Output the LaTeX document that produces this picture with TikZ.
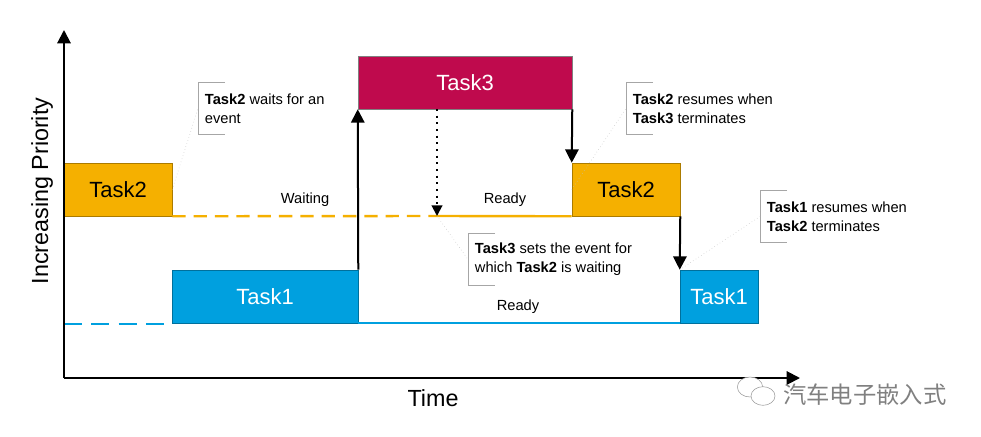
\documentclass[tikz,border=0pt]{standalone}
\usepackage{fontspec}
\setmainfont{Liberation Sans}
\newfontfamily\cjkfont{Noto Sans CJK SC}
\usetikzlibrary{arrows.meta}

\definecolor{tkorange}{HTML}{F5B000}
\definecolor{tkred}{HTML}{BF0A4D}
\definecolor{tkblue}{HTML}{00A0DF}

\tikzset{
	task/.style={draw, minimum height=39.75pt, inner sep=0pt, font=\fontsize{16.5}{18}\selectfont},
	flow/.style={-{Triangle[length=10pt,width=10pt]}, line width=1.5pt},
	note/.style={anchor=west, align=left, minimum height=38.25pt, inner xsep=5pt, font=\fontsize{11}{14.5}\selectfont},
	bracket/.style={draw=gray!70, line width=0.6pt},
	leader/.style={draw=gray!50, dotted, line width=0.4pt},
	lbl/.style={font=\fontsize{11}{13}\selectfont}
}

\begin{document}
\begin{tikzpicture}[x=0.75pt,y=-0.75pt]
		\useasboundingbox (0,0) rectangle (981,436);
		
		\node[task, fill=tkorange, draw=tkorange!70!black, minimum width=81pt] (t2a) at (118,189.5) {Task2};
		\node[task, fill=tkblue, draw=tkblue!70!black, text=white, minimum width=139.5pt] (t1a) at (265,296.5) {Task1};
		\node[task, fill=tkred, draw=gray, text=white, minimum width=160.5pt] (t3) at (465,82.5) {Task3};
		\node[task, fill=tkorange, draw=tkorange!70!black, minimum width=81pt] (t2b) at (626,189.5) {Task2};
		\node[task, fill=tkblue, draw=tkblue!70!black, text=white, minimum width=58.5pt] (t1b) at (719,296.5) {Task1};
		
		\coordinate (evt) at (437,216);
		\coordinate (set) at (437,109);
		\coordinate (bl0) at (64,324);
		\coordinate (bl1) at (165,324);
		\draw[tkorange, line width=1.8pt, dash pattern=on 10pt off 6pt] (t2a.south east) -- (evt);
		\draw[tkorange, line width=1.8pt] (evt) -- (t2b.south west);
		\draw[tkblue, line width=1.5pt] (t1a.south east) -- (t1b.south west);
		\draw[tkblue, line width=1.8pt, dash pattern=on 13.5pt off 7pt] (bl0) -- (bl1);
		
		\coordinate (o) at (64,378);
		\coordinate (ytop) at (64,30);
		\coordinate (xend) at (800,378);
		\draw[flow] (o) -- (ytop);
		\draw[flow] (o) -- (xend);
		\node[font=\fontsize{17.5}{20}\selectfont, rotate=90] (prio) at (42,191) {Increasing Priority};
		\node[font=\fontsize{17.5}{20}\selectfont] (time) at (433,398) {Time};
		
		\draw[flow] (t1a.north east) -- (t3.south west);
		\draw[flow] (t3.south east) -- (t2b.north west);
		\draw[flow] (t2b.south east) -- (t1b.north west);
		\draw[flow, -{Triangle[length=8pt,width=8pt]}, dash pattern=on 1.5pt off 3.5pt] (set) -- (evt);
		
		\node[lbl] (wait) at (305,200) {Waiting};
		\node[lbl] (rdy1) at (505,200) {Ready};
		\node[lbl] (rdy2) at (518,307) {Ready};
		
		\node[note] (n1) at (198,108.5) {\textbf{Task2} waits for an\\event};
		\node[note] (n2) at (626,108.5) {\textbf{Task2} resumes when\\\textbf{Task3} terminates};
		\node[note] (n3) at (468,259.5) {\textbf{Task3} sets the event for\\which \textbf{Task2} is waiting};
		\node[note] (n4) at (760,216.5) {\textbf{Task1} resumes when\\\textbf{Task2} terminates};
		\draw[bracket] ([xshift=20.25pt]n1.north west) -- (n1.north west) -- (n1.south west) -- ++(27,0);
		\draw[bracket] ([xshift=20.25pt]n2.north west) -- (n2.north west) -- (n2.south west) -- ++(27,0);
		\draw[bracket] ([xshift=20.25pt]n3.north west) -- (n3.north west) -- (n3.south west) -- ++(27,0);
		\draw[bracket] ([xshift=20.25pt]n4.north west) -- (n4.north west) -- (n4.south west) -- ++(27,0);
		\draw[leader] (t2a.east) -- (n1.west);
		\draw[leader] (t2b.west) -- (n2.west);
		\draw[leader] (evt) -- (n3.west);
		\draw[leader] (t1b.north west) -- (n4.west);
		
		\draw[black!40, fill=white] (750,387) ellipse [x radius=9.5pt, y radius=7.5pt];
		\draw[black!40, fill=white] (763,396) ellipse [x radius=9pt, y radius=7pt];
		\node[text=black!50, font=\cjkfont\fontsize{17.5}{20}\selectfont, anchor=west, inner sep=0pt] (wm) at (783,395) {汽车电子嵌入式};
\end{tikzpicture}
\end{document}
